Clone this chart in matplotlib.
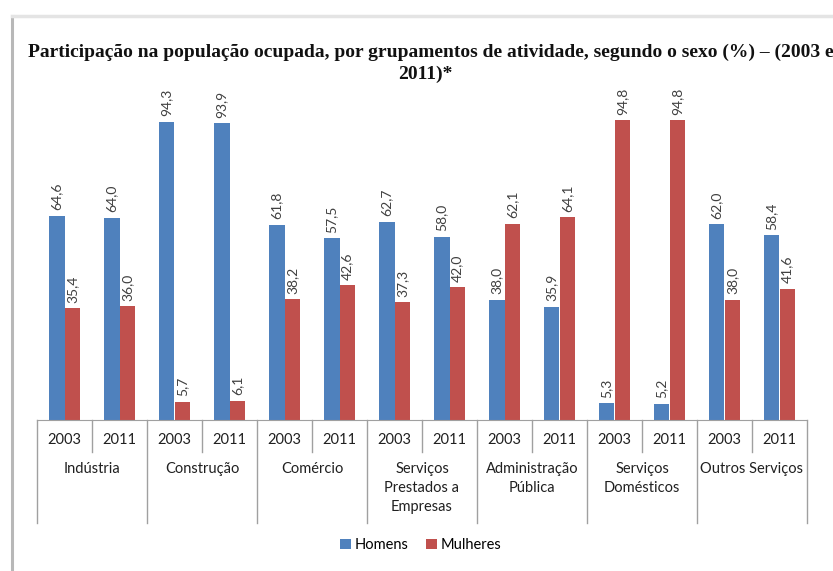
import numpy as np
import matplotlib.pyplot as plt
from matplotlib.transforms import blended_transform_factory

categorias = ['Indústria', 'Construção', 'Comércio', 'Serviços\nPrestados a\nEmpresas',
              'Administração\nPública', 'Serviços\nDomésticos', 'Outros Serviços']
anos = ['2003', '2011']
homens = [64.6, 64.0, 94.3, 93.9, 61.8, 57.5, 62.7, 58.0, 38.0, 35.9, 5.3, 5.2, 62.0, 58.4]
mulheres = [35.4, 36.0, 5.7, 6.1, 38.2, 42.6, 37.3, 42.0, 62.1, 64.1, 94.8, 94.8, 38.0, 41.6]

W, H = 833, 571
fig = plt.figure(figsize=(W / 100, H / 100), dpi=100)
fig.patch.set_facecolor('white')

def fx(px):
    return px / W

def fy(py):
    return 1 - py / H

# screenshot frame (left border + top shadow)
fig.add_artist(plt.Line2D([fx(12), fx(12)], [fy(16), 0], color='#b8b8b8', lw=2.2))
fig.add_artist(plt.Line2D([fx(12), 1], [fy(16), fy(16)], color='#e4e4e4', lw=2.5))

ax = fig.add_axes([fx(37), fy(420), fx(807) - fx(37), fy(104) - fy(420)])
x = np.arange(len(homens))
bw = 0.28
cor_h = '#4F81BD'
cor_m = '#C0504D'
bh = ax.bar(x - bw / 2, homens, bw, color=cor_h, label='Homens')
bm = ax.bar(x + bw / 2, mulheres, bw, color=cor_m, label='Mulheres')

for bars in (bh, bm):
    for b in bars:
        v = b.get_height()
        ax.annotate(f'{v:.1f}'.replace('.', ','), (b.get_x() + b.get_width() / 2, v),
                    xytext=(0, 4), textcoords='offset points', rotation=90,
                    ha='center', va='bottom', fontsize=10, color='#404040', family='Lato')

ax.set_xlim(-0.5, len(homens) - 0.5)
ax.set_ylim(0, 100)
ax.set_yticks([])
ax.set_xticks([])
for s in ['top', 'right', 'left']:
    ax.spines[s].set_visible(False)
ax.spines['bottom'].set_color('#a0a0a0')

# multi-level category axis
tr = blended_transform_factory(ax.transData, fig.transFigure)
n = len(homens)
for k in range(n + 1):
    xb = k - 0.5
    bottom = 523 if k % 2 == 0 else 452
    ax.plot([xb, xb], [fy(420), fy(bottom)], color='#a0a0a0', lw=1,
            transform=tr, clip_on=False)
for i in range(n):
    ax.text(i, fy(440), anos[i % 2], transform=tr, ha='center', va='center',
            fontsize=10.5, color='#202020', family='Lato')
for j, c in enumerate(categorias):
    ax.text(2 * j + 0.5, fy(462), c, transform=tr, ha='center', va='top',
            fontsize=10.5, color='#202020', family='Lato', linespacing=1.45)

fig.legend(handles=[bh, bm], labels=['Homens', 'Mulheres'], loc='center',
           bbox_to_anchor=(fx(421), fy(545)), ncol=2, frameon=False,
           prop={'family': 'Lato', 'size': 10.5}, handlelength=0.7, handleheight=0.7,
           handletextpad=0.3, columnspacing=1.2)

fig.text(fx(431), fy(52), 'Participação na população ocupada, por grupamentos de atividade, segundo o sexo (%) – (2003 e',
         ha='center', va='center', fontsize=14, fontweight='bold', family='Liberation Serif', color='#111111')
fig.text(fx(425), fy(74), '2011)*', ha='center', va='center', fontsize=14,
         fontweight='bold', family='Liberation Serif', color='#111111')

fig.savefig('out.png', dpi=100)
